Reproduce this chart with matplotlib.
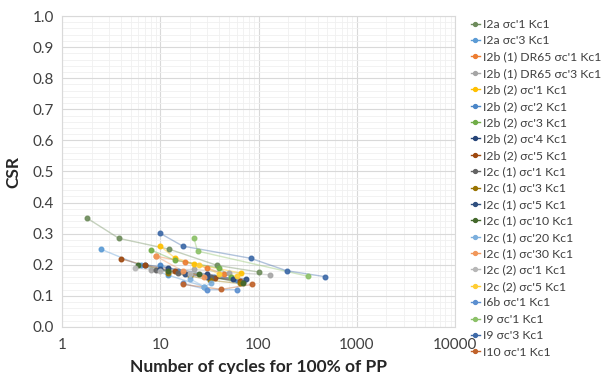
import matplotlib
matplotlib.use("Agg")
import matplotlib.pyplot as plt
from matplotlib.ticker import FixedLocator, MultipleLocator, LogLocator, FuncFormatter
from matplotlib.lines import Line2D

plt.rcParams['font.family'] = ['Lato', 'DejaVu Sans']

labels = ["I2a σc'1 Kc1", "I2a σc'3 Kc1", "I2b (1) DR65 σc'1 Kc1", "I2b (1) DR65 σc'3 Kc1",
          "I2b (2) σc'1 Kc1", "I2b (2) σc'2 Kc1", "I2b (2) σc'3 Kc1", "I2b (2) σc'4 Kc1",
          "I2b (2) σc'5 Kc1", "I2c (1) σc'1 Kc1", "I2c (1) σc'3 Kc1", "I2c (1) σc'5 Kc1",
          "I2c (1) σc'10 Kc1", "I2c (1) σc'20 Kc1", "I2c (1) σc'30 Kc1", "I2c (2) σc'1 Kc1",
          "I2c (2) σc'5 Kc1", "I6b σc'1 Kc1", "I9 σc'1 Kc1", "I9 σc'3 Kc1", "I10 σc'1 Kc1"]

colors = ["#6e8c5c", "#5b9bd5", "#ed7d31", "#a5a5a5", "#ffc000", "#4a86c8", "#70ad47",
          "#264478", "#9e480e", "#636363", "#997300", "#2f4f7f", "#43682b", "#7cafdd",
          "#f1975a", "#b7b7b7", "#ffcd33", "#5b8fd0", "#8cc168", "#3e6aa8", "#c0622a"]

x_vals = [
    [1.8, 3.8, 12.4, 38, 100],
    [2.5, 6.3, 12, 28],
    [9, 18, 30, 45],
    [8, 22, 50, 130],
    [10, 14, 22, 67],
    [10, 15, 35, 60],
    [8, 14, 40, 52],
    [7, 12, 30, 55],
    [4, 7, 14, 36, 65],
    [9, 15, 33, 70],
    [12, 20, 32, 65],
    [10, 18, 30, 75],
    [6, 12, 25, 70],
    [20, 28, 33],
    [9, 17, 28],
    [5.5, 10, 20],
    [25, 40, 60],
    [17, 30, 60],
    [22, 24, 320],
    [10, 17, 83, 193, 471],
    [17, 42, 86],
]
y_vals = [
    [0.35, 0.285, 0.25, 0.198, 0.177],
    [0.25, 0.198, 0.167, 0.13],
    [0.228, 0.209, 0.19, 0.17],
    [0.183, 0.185, 0.175, 0.168],
    [0.26, 0.223, 0.203, 0.173],
    [0.20, 0.18, 0.16, 0.15],
    [0.248, 0.215, 0.19, 0.16],
    [0.20, 0.19, 0.17, 0.155],
    [0.219, 0.198, 0.18, 0.159, 0.149],
    [0.183, 0.175, 0.16, 0.145],
    [0.175, 0.165, 0.15, 0.14],
    [0.185, 0.17, 0.16, 0.155],
    [0.20, 0.18, 0.17, 0.14],
    [0.155, 0.13, 0.14],
    [0.228, 0.18, 0.16],
    [0.19, 0.18, 0.17],
    [0.20, 0.17, 0.165],
    [0.14, 0.12, 0.12],
    [0.285, 0.244, 0.163],
    [0.301, 0.26, 0.221, 0.181, 0.162],
    [0.137, 0.121, 0.137],
]

x_ticks = [1, 10, 100, 1000, 10000]
x_tick_labels = ["1", "10", "100", "1000", "10000"]
x_label = "Number of cycles for 100% of PP"
y_label = "CSR"

fig = plt.figure(figsize=(6.01, 3.74), dpi=100)
ax = fig.add_axes([62/601, 47/374, (455-62)/601, (327-16)/374])

for xs, ys, c, lab in zip(x_vals, y_vals, colors, labels):
    ax.plot(xs, ys, '-', color=c, lw=1.0, alpha=0.4, zorder=2)
    ax.plot(xs, ys, 'o', color=c, ms=3.3, mec=c, alpha=0.9, zorder=3)

ax.set_xscale('log')
ax.set_xlim(1, 10000)
ax.set_ylim(0, 1.0)
ax.xaxis.set_major_locator(FixedLocator(x_ticks))
ax.set_xticklabels(x_tick_labels)
ax.xaxis.set_minor_locator(LogLocator(base=10, subs=range(2, 10)))
ax.xaxis.set_minor_formatter(FuncFormatter(lambda v, p: ""))
ax.yaxis.set_major_locator(MultipleLocator(0.1))
ax.yaxis.set_minor_locator(MultipleLocator(0.02))
ax.yaxis.set_major_formatter(FuncFormatter(lambda v, p: f"{v:.1f}"))

ax.grid(which='major', color='#d9d9d9', lw=0.8)
ax.grid(which='minor', color='#f0f0f0', lw=0.6)
ax.set_axisbelow(True)
for s in ax.spines.values():
    s.set_color('#d9d9d9')
    s.set_linewidth(0.8)
ax.tick_params(which='both', length=0, labelsize=11, colors='#404040', pad=6)
ax.tick_params(axis='x', pad=8)

ax.set_xlabel(x_label, fontsize=12.5, fontweight='bold', color='#262626', labelpad=5)
ax.set_ylabel(y_label, fontsize=12.5, fontweight='bold', color='#262626', labelpad=8)

handles = [Line2D([0], [0], color=c, lw=1.0, marker='o', ms=2.8) for c in colors]
fig.legend(handles, labels, loc='upper left', bbox_to_anchor=(471/601, 1 - 19/374),
           frameon=False, fontsize=8.8, handlelength=0.7, handletextpad=0.25,
           labelspacing=0.44, borderaxespad=0, borderpad=0, labelcolor='#404040')

fig.savefig("out.png", dpi=100)
